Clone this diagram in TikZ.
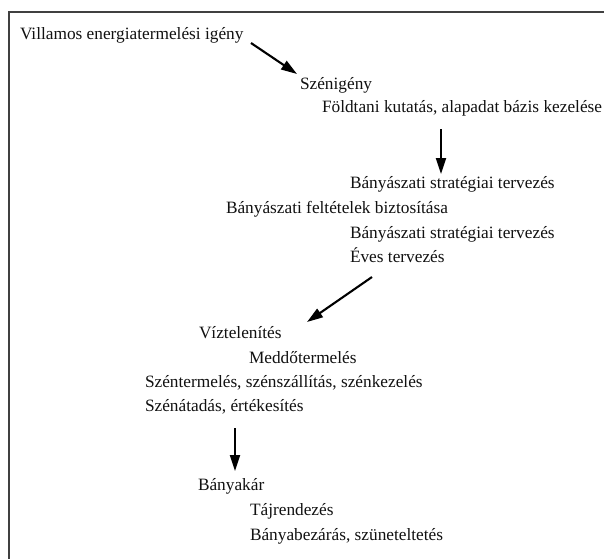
\documentclass[tikz,border=0pt]{standalone}
\usepackage{fontspec}
\setmainfont{Liberation Serif}
\usetikzlibrary{arrows.meta}
\definecolor{framegray}{HTML}{404040}
\definecolor{txt}{HTML}{111111}
\begin{document}
\begin{tikzpicture}[x=1pt,y=-1pt,
  lbl/.style={anchor=base west,inner sep=0pt,outer sep=0pt,text=txt,font=\fontsize{17.3}{20}\selectfont},
  flow/.style={line width=2.1pt,-{Triangle[length=16pt,width=10pt]}}]
\useasboundingbox (0,0) rectangle (604,559);
\fill[white] (0,0) rectangle (604,559);
\draw[framegray,line width=1.3pt] (604,12) -- (9,12) -- (9,559);
\node[lbl] (villamos) at (20,40) {Villamos energiatermelési igény};
\node[lbl] (szenigeny) at (300,89) {Szénigény};
\node[lbl] (foldtani) at (322,113) {Földtani kutatás, alapadat bázis kezelése};
\node[lbl] (strat1) at (350,188) {Bányászati stratégiai tervezés};
\node[lbl] (feltetel) at (226,213) {Bányászati feltételek biztosítása};
\node[lbl] (strat2) at (350,238) {Bányászati stratégiai tervezés};
\node[lbl] (eves) at (350,262) {Éves tervezés};
\node[lbl] (viz) at (199,338) {Víztelenítés};
\node[lbl] (meddo) at (249,363) {Meddőtermelés};
\node[lbl] (szentermeles) at (145,387) {Széntermelés, szénszállítás, szénkezelés};
\node[lbl] (szenatadas) at (145,411) {Szénátadás, értékesítés};
\node[lbl] (banyakar) at (198,490) {Bányakár};
\node[lbl] (taj) at (250,515) {Tájrendezés};
\node[lbl] (bezaras) at (250,540) {Bányabezárás, szüneteltetés};
\coordinate (a1s) at (251,43);
\coordinate (a1e) at (297,74);
\coordinate (a2s) at (441,129);
\coordinate (a2e) at (441,174);
\coordinate (a3s) at (372,277);
\coordinate (a3e) at (307,322);
\coordinate (a4s) at (235,428);
\coordinate (a4e) at (235,471);
\draw[flow] (a1s) -- (a1e);
\draw[flow] (a2s) -- (a2e);
\draw[flow] (a3s) -- (a3e);
\draw[flow] (a4s) -- (a4e);
\end{tikzpicture}
\end{document}
